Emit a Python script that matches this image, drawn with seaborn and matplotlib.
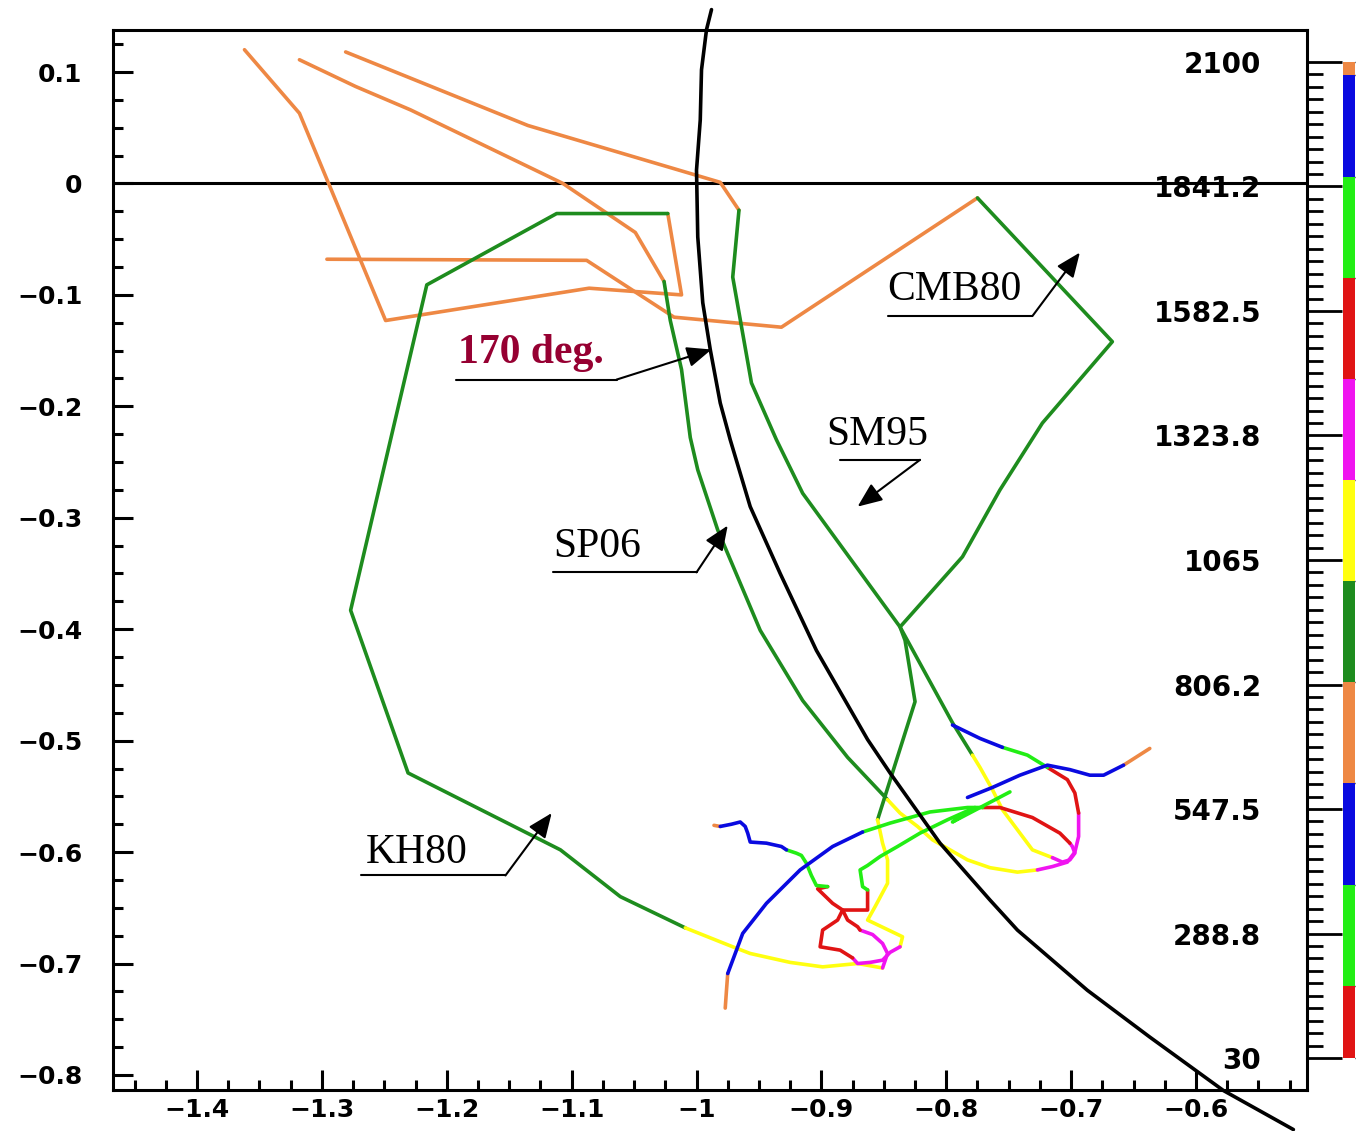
import numpy as np
import pandas as pd
import matplotlib
matplotlib.use("Agg")
import matplotlib.pyplot as plt
from matplotlib.colors import ListedColormap, BoundaryNorm
from matplotlib.cm import ScalarMappable
from matplotlib.ticker import MultipleLocator, FixedLocator, FuncFormatter
import seaborn as sns

# ---------------------------------------------------------------- data
# age key (years): bin edges, youngest first, and the colour of each bin
AGE_EDGES = [30, 180, 390, 601, 811, 1021, 1231, 1441, 1651, 1862, 2073, 2100]
AGE_COLOURS = ["red", "lime", "blue", "orange", "dkgreen", "yellow",
               "magenta", "red", "lime", "blue", "orange"]
AGE_TICKS = [30, 288.75, 547.5, 806.25, 1065, 1323.75, 1582.5, 1841.25, 2100]
AGE_LABELS = ["30", "288.8", "547.5", "806.2", "1065", "1323.8",
              "1582.5", "1841.2", "2100"]

PALETTE = {"orange": "#EE8844", "dkgreen": "#1E8C1E", "yellow": "#FFFF10",
           "magenta": "#F014F0", "red": "#E01414", "lime": "#22EE14",
           "blue": "#0A0AE0"}

# VGP paths, each split into age-coloured pieces: (colour, x, y)
KH80 = [
    ("orange", [-1.362, -1.318, -1.249, -1.086, -1.012, -1.023],
               [0.120, 0.063, -0.123, -0.094, -0.100, -0.027]),
    ("dkgreen", [-1.023, -1.112, -1.216, -1.277, -1.231, -1.109, -1.061, -1.009],
                [-0.027, -0.027, -0.091, -0.383, -0.529, -0.598, -0.640, -0.668]),
    ("yellow", [-1.009, -0.971, -0.957, -0.925, -0.899, -0.871, -0.851],
               [-0.668, -0.685, -0.691, -0.699, -0.703, -0.700, -0.704]),
    ("magenta", [-0.851, -0.847, -0.851, -0.859, -0.869],
                [-0.704, -0.691, -0.682, -0.674, -0.670]),
    ("red", [-0.869, -0.871, -0.879, -0.883, -0.891, -0.903, -0.895],
            [-0.670, -0.667, -0.661, -0.652, -0.646, -0.633, -0.631]),
    ("lime", [-0.895, -0.904, -0.908, -0.912, -0.916, -0.920, -0.928],
             [-0.631, -0.630, -0.621, -0.610, -0.603, -0.601, -0.598]),
    ("blue", [-0.928, -0.932, -0.944, -0.957, -0.959, -0.961, -0.965, -0.972, -0.981],
             [-0.598, -0.595, -0.592, -0.591, -0.583, -0.577, -0.573, -0.575, -0.577]),
    ("orange", [-0.981, -0.986], [-0.577, -0.576]),
]

SP06 = [
    ("orange", [-1.318, -1.273, -1.229, -1.107, -1.049, -1.026],
               [0.111, 0.087, 0.066, 0.000, -0.044, -0.088]),
    ("dkgreen", [-1.026, -1.021, -1.012, -1.005, -0.999, -0.983, -0.949, -0.915, -0.879, -0.847],
                [-0.088, -0.123, -0.167, -0.228, -0.257, -0.311, -0.401, -0.464, -0.515, -0.553]),
    ("yellow", [-0.847, -0.837, -0.823, -0.811, -0.797, -0.783, -0.765, -0.743, -0.727],
               [-0.553, -0.565, -0.577, -0.589, -0.598, -0.607, -0.614, -0.618, -0.616]),
    ("magenta", [-0.727, -0.715, -0.703, -0.697, -0.694, -0.694],
                [-0.616, -0.613, -0.609, -0.600, -0.586, -0.565]),
    ("red", [-0.694, -0.697, -0.703, -0.719], [-0.565, -0.547, -0.535, -0.524]),
    ("lime", [-0.719, -0.735, -0.755], [-0.524, -0.513, -0.506]),
    ("blue", [-0.755, -0.773, -0.795], [-0.506, -0.498, -0.486]),
]

SM95 = [
    ("orange", [-1.281, -1.135, -0.981, -0.966], [0.118, 0.052, 0.001, -0.024]),
    ("dkgreen", [-0.966, -0.971, -0.956, -0.936, -0.915, -0.837, -0.795, -0.779],
                [-0.024, -0.084, -0.179, -0.230, -0.278, -0.398, -0.484, -0.513]),
    ("yellow", [-0.779, -0.773, -0.763, -0.755, -0.743, -0.731, -0.715],
               [-0.513, -0.524, -0.544, -0.562, -0.580, -0.598, -0.605]),
    ("magenta", [-0.715, -0.707, -0.701, -0.697, -0.699, -0.701],
                [-0.605, -0.609, -0.607, -0.601, -0.595, -0.592]),
    ("red", [-0.701, -0.709, -0.731, -0.757, -0.771],
            [-0.592, -0.583, -0.569, -0.560, -0.560]),
    ("lime", [-0.771, -0.783, -0.813, -0.845, -0.867],
             [-0.560, -0.560, -0.564, -0.574, -0.582]),
    ("blue", [-0.867, -0.891, -0.917, -0.944, -0.963, -0.975],
             [-0.582, -0.595, -0.616, -0.646, -0.673, -0.709]),
    ("orange", [-0.975, -0.976, -0.977], [-0.709, -0.724, -0.740]),
]

CMB80 = [
    ("orange", [-1.296, -1.088, -1.018, -0.932, -0.775],
               [-0.068, -0.069, -0.120, -0.129, -0.013]),
    ("dkgreen", [-0.775, -0.667, -0.723, -0.757, -0.787, -0.837, -0.833, -0.825, -0.855],
                [-0.013, -0.142, -0.215, -0.275, -0.335, -0.398, -0.410, -0.465, -0.571]),
    ("yellow", [-0.855, -0.851, -0.847, -0.847, -0.857, -0.863, -0.835, -0.837],
               [-0.571, -0.592, -0.607, -0.628, -0.649, -0.661, -0.676, -0.685]),
    ("magenta", [-0.837, -0.845, -0.851, -0.861, -0.871, -0.875],
                [-0.685, -0.690, -0.697, -0.699, -0.700, -0.695]),
    ("red", [-0.875, -0.885, -0.901, -0.899, -0.887, -0.883, -0.863, -0.863, -0.863],
            [-0.695, -0.688, -0.685, -0.670, -0.661, -0.652, -0.652, -0.646, -0.634]),
    ("lime", [-0.863, -0.867, -0.869, -0.863, -0.853, -0.839, -0.821, -0.799, -0.777, -0.795, -0.749],
             [-0.634, -0.631, -0.616, -0.612, -0.604, -0.595, -0.583, -0.571, -0.560, -0.573, -0.546]),
    ("blue", [-0.783, -0.763, -0.741, -0.719, -0.701, -0.685, -0.674, -0.658],
             [-0.551, -0.542, -0.531, -0.522, -0.526, -0.531, -0.531, -0.522]),
    ("orange", [-0.658, -0.637], [-0.522, -0.507]),
]

# 170 degree meridian
MERID_X = [-0.988, -0.992, -0.996, -0.997, -1.000, -0.999, -0.995, -0.989, -0.981,
           -0.973, -0.957, -0.933, -0.904, -0.863, -0.845, -0.805, -0.765, -0.743,
           -0.687, -0.637, -0.578, -0.522]
MERID_Y = [0.156, 0.138, 0.102, 0.057, 0.012, -0.048, -0.107, -0.149, -0.197,
           -0.230, -0.290, -0.350, -0.419, -0.499, -0.529, -0.592, -0.643, -0.670,
           -0.724, -0.766, -0.814, -0.849]

# ---------------------------------------------------------------- style
sns.set_theme(style="white")
plt.rcParams["font.family"] = ["DejaVu Sans"]
plt.rcParams["axes.unicode_minus"] = True
for key in ("text.color", "axes.labelcolor", "xtick.color", "ytick.color",
            "xtick.labelcolor", "ytick.labelcolor"):
    plt.rcParams[key] = "black"

W, H = 1356, 1131
fig = plt.figure(figsize=(W / 100, H / 100), dpi=100)
ax = fig.add_axes([113 / W, 1 - 1090 / H, 1194 / W, 1060 / H])
ax.set_xlim(-1.4673, -0.5111)
ax.set_ylim(-0.8135, 0.1377)

rows = []
for name, track in [("KH80", KH80), ("SP06", SP06), ("SM95", SM95), ("CMB80", CMB80)]:
    for i, (col, xs, ys) in enumerate(track):
        for x, y in zip(xs, ys):
            rows.append({"x": x, "y": y, "piece": f"{name}-{i}", "colour": col})
paths = pd.DataFrame(rows)

ax.axhline(0, color="black", lw=2.2, zorder=1)

sns.lineplot(data=paths, x="x", y="y", units="piece", hue="colour",
             palette=PALETTE, estimator=None, sort=False, lw=2.6,
             legend=False, ax=ax, zorder=3)

sns.lineplot(x=MERID_X, y=MERID_Y, sort=False, estimator=None, color="black",
             lw=2.6, ax=ax, zorder=4)
ax.lines[-1].set_clip_on(False)

# axes frame and ticks
for s in ax.spines.values():
    s.set_visible(True)
    s.set_color("black")
    s.set_linewidth(2.2)

ax.xaxis.set_major_locator(MultipleLocator(0.1))
ax.xaxis.set_minor_locator(MultipleLocator(0.025))
ax.yaxis.set_major_locator(MultipleLocator(0.1))
ax.yaxis.set_minor_locator(MultipleLocator(0.025))
fmt = FuncFormatter(lambda v, p: ("%g" % round(v, 3)).replace("-", "\u2212"))
ax.xaxis.set_major_formatter(fmt)
ax.yaxis.set_major_formatter(fmt)
ax.tick_params(which="both", direction="in", top=False, right=False,
               left=True, bottom=True, width=2.2, color="black",
               labelcolor="black")
ax.tick_params(which="major", length=14.5)
ax.tick_params(which="minor", length=7)
ax.tick_params(axis="y", which="major", pad=22, labelsize=18)
ax.tick_params(axis="x", which="major", pad=6, labelsize=18)
for t in ax.get_xticklabels() + ax.get_yticklabels():
    t.set_fontweight("bold")
ax.set_xlabel("")
ax.set_ylabel("")

# age scale on the right frame
ax2 = ax.twinx()
ax2.set_ylim(-36.5, 2166.5)
ax2.set_yticks(AGE_TICKS, labels=AGE_LABELS)
ax2.yaxis.set_minor_locator(FixedLocator(np.arange(30, 2100.5, 25.875)))
ax2.tick_params(axis="y", which="major", direction="out", length=25, width=2.0,
                pad=-58, labelsize=20, color="black", labelcolor="black")
ax2.tick_params(axis="y", which="minor", direction="out", length=11.5, width=2.0,
                color="black")
for t in ax2.get_yticklabels():
    t.set_horizontalalignment("right")
    t.set_fontweight("bold")
for s in ax2.spines.values():
    s.set_visible(False)
ax2.grid(False)

# age colour key
cax = fig.add_axes([1343 / W, 1 - 1058 / H, 12 / W, 996 / H])
cmap = ListedColormap([PALETTE[c] for c in AGE_COLOURS])
norm = BoundaryNorm(AGE_EDGES, cmap.N)
cb = fig.colorbar(ScalarMappable(norm=norm, cmap=cmap), cax=cax,
                  spacing="proportional")
cb.outline.set_visible(False)
cb.set_ticks([])
cax.tick_params(length=0)

# labelled call-outs
def callout(text, tx, ty, ux0, ux1, uy, ex, ey, color="black", **kw):
    ax.text(tx, ty, text, ha="left", va="baseline", fontsize=30,
            family="Liberation Serif", color=color, zorder=6, **kw)
    ax.plot([ux0, ux1], [uy, uy], color="black", lw=1.5, zorder=6)
    ax.annotate("", xy=(ex, ey), xytext=(ux1, uy),
                arrowprops=dict(arrowstyle="-|>,head_length=0.6,head_width=0.25",
                                color="black", lw=1.5, shrinkA=0, shrinkB=0,
                                mutation_scale=25), zorder=6)

callout("CMB80", -0.847, -0.105, -0.847, -0.731, -0.119, -0.693, -0.062)
callout("170 deg.", -1.191, -0.161, -1.193, -1.064, -0.176, -0.988, -0.149,
        color="#960032", fontweight="bold")
callout("SM95", -0.896, -0.235, -0.885, -0.821, -0.248, -0.871, -0.290)
callout("SP06", -1.115, -0.335, -1.115, -1.000, -0.349, -0.975, -0.307)
callout("KH80", -1.265, -0.610, -1.269, -1.153, -0.621, -1.116, -0.565)

fig.savefig("out.png", dpi=100)
